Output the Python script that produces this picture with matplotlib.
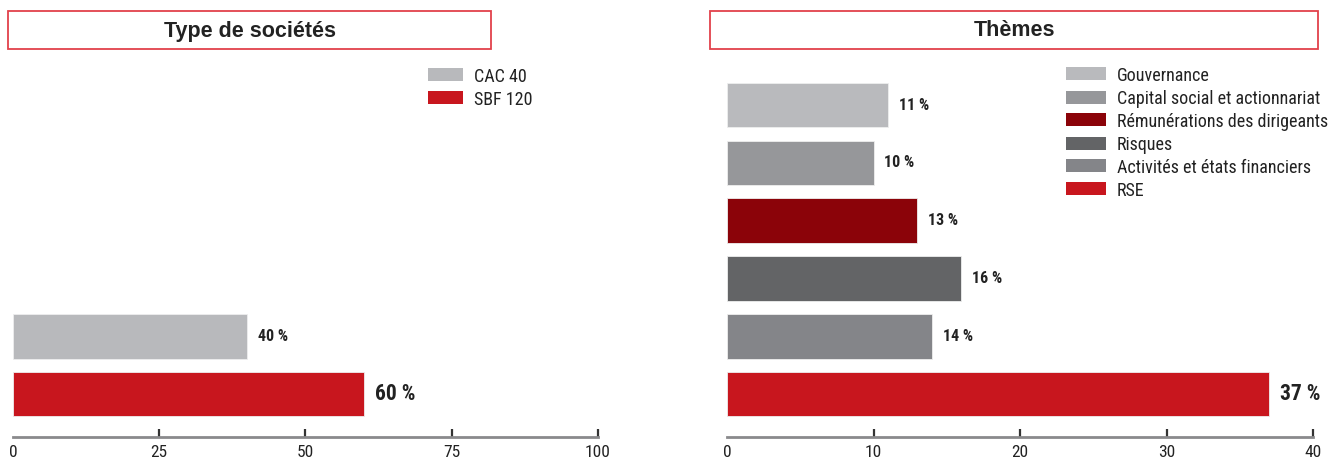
import matplotlib
matplotlib.use("Agg")
import matplotlib.pyplot as plt
from matplotlib import font_manager as fm
from matplotlib.patches import Rectangle

# left panel: type of companies
soc_labels = ['CAC 40', 'SBF 120']
soc_values = [40, 60]
soc_colors = ['#b8b9bc', '#c8161e']
soc_ticks = [0, 25, 50, 75, 100]

# right panel: themes
theme_labels = ['Gouvernance', 'Capital social et actionnariat',
                'Rémunérations des dirigeants', 'Risques',
                'Activités et états financiers', 'RSE']
theme_values = [11, 10, 13, 16, 14, 37]
theme_colors = ['#b9babd', '#96979a', '#8b0309', '#636466', '#848589', '#c8161e']
theme_ticks = [0, 10, 20, 30, 40]


def pick(*families):
    have = {f.name for f in fm.fontManager.ttflist}
    for f in families:
        if f in have:
            return f
    return 'DejaVu Sans'


NARROW = pick('Roboto Condensed', 'Archivo Narrow', 'Barlow Semi Condensed')
TITLE = pick('Liberation Sans', 'Arimo', 'DejaVu Sans')

W, H = 1337, 465
fig = plt.figure(figsize=(W / 100, H / 100), dpi=100)


def px_axes(x0, x1, y0, y1):
    return fig.add_axes([x0 / W, 1 - y1 / H, (x1 - x0) / W, (y1 - y0) / H])


def title_box(x0, x1, text):
    fig.patches.append(Rectangle((x0 / W, 1 - 49 / H), (x1 - x0) / W, 38 / H,
                                 transform=fig.transFigure, fill=False,
                                 edgecolor='#e2414b', linewidth=1.3))
    fig.text((x0 + x1) / 2 / W, 1 - 31 / H, text, ha='center', va='center',
             fontsize=15.5, fontweight='bold', color='#222222', family=TITLE)


def legend_block(x, y, labels, colors, w, step=23, h=13):
    # swatches and labels placed in pixel units from the top-left corner
    for i, (lab, c) in enumerate(zip(labels, colors)):
        yc = y + i * step
        fig.patches.append(Rectangle((x / W, 1 - (yc + h / 2) / H), w / W, h / H,
                                     transform=fig.transFigure, facecolor=c,
                                     edgecolor='none'))
        fig.text((x + w + 11) / W, 1 - yc / H, lab, ha='left', va='center_baseline',
                 fontsize=13, color='#222222', family=NARROW)


def draw_panel(ax, values, colors, xmax, ticks, positions):
    ax.barh(positions, values, height=0.77, color=colors,
            edgecolor='#eeeeee', linewidth=0.6)
    for i, (p, v) in enumerate(zip(positions, values)):
        big = i == len(values) - 1
        ax.text(v + xmax * 0.018, p, f'{v} %', va='center', ha='left',
                fontsize=15.5 if big else 11.5, fontweight='bold',
                color='#222222', family=NARROW)
    ax.set_xlim(0, xmax)
    ax.set_ylim(5.74, -0.78)
    ax.set_xticks(ticks)
    ax.set_yticks([])
    for s in ['top', 'right', 'left']:
        ax.spines[s].set_visible(False)
    ax.spines['bottom'].set_color('#8a8a8c')
    ax.spines['bottom'].set_linewidth(2)
    ax.tick_params(axis='x', direction='in', length=6, width=1.6,
                   color='#333333', pad=6, labelsize=12.5, labelcolor='#222222')
    for lab in ax.get_xticklabels():
        lab.set_family(NARROW)
    ax.xaxis.get_major_ticks()[0].tick1line.set_visible(False)
    ax.set_facecolor('none')


ax1 = px_axes(13, 598, 60, 437)
draw_panel(ax1, soc_values, soc_colors, 100, soc_ticks, [4, 5])
title_box(8, 491, 'Type de sociétés')
legend_block(428, 75, soc_labels, soc_colors, 35)

ax2 = px_axes(727, 1313, 60, 437)
draw_panel(ax2, theme_values, theme_colors, 40, theme_ticks, list(range(6)))
title_box(710, 1318, 'Thèmes')
legend_block(1066, 74, theme_labels, theme_colors, 40)

fig.savefig('out.png', dpi=100)
